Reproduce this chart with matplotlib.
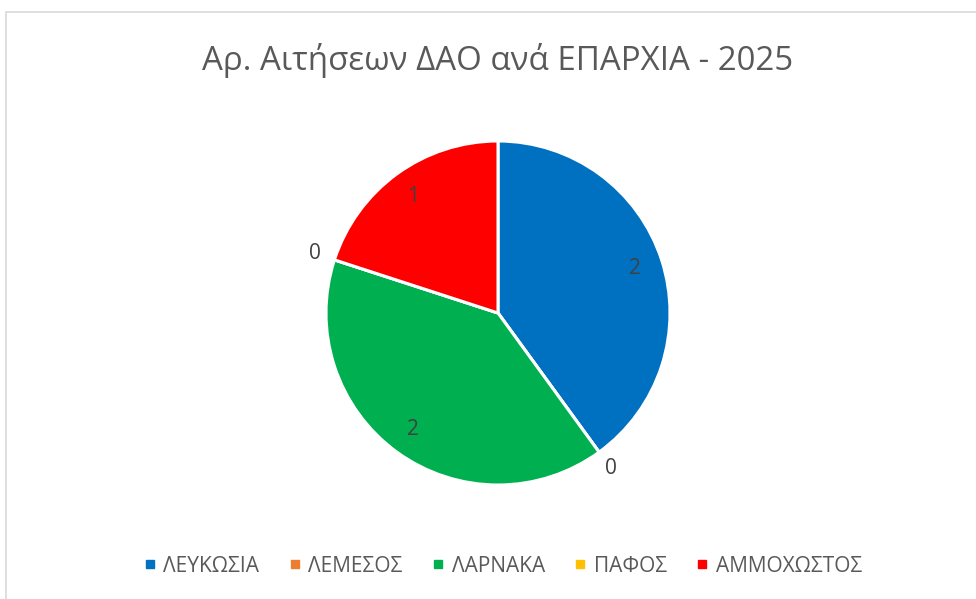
import numpy as np
import matplotlib
matplotlib.use("Agg")
from matplotlib import pyplot as plt
from matplotlib.lines import Line2D
from matplotlib.patches import Rectangle

# data
regions = ['ΛΕΥΚΩΣΙΑ', 'ΛΕΜΕΣΟΣ', 'ΛΑΡΝΑΚΑ', 'ΠΑΦΟΣ', 'ΑΜΜΟΧΩΣΤΟΣ']
counts = [2, 0, 2, 0, 1]
colors = ['#0070C0', '#ED7D31', '#00B050', '#FFC000', '#FF0000']
title = 'Αρ. Αιτήσεων ΔΑΟ ανά ΕΠΑΡΧΙΑ - 2025'

plt.rcParams['font.family'] = ['Open Sans', 'DejaVu Sans']
txt_col = '#595959'

W, H = 976, 599
fig = plt.figure(figsize=(W / 100, H / 100), dpi=100)

# chart border (light grey, runs off right/bottom)
fig.patches.append(Rectangle((6 / W, -0.1), 1.2, (1 - 12 / H) + 0.1,
                             transform=fig.transFigure, fill=False,
                             edgecolor='#D9D9D9', linewidth=1.2))

cx, cy, r = 498, 313, 172
ax = fig.add_axes([(cx - r) / W, (H - cy - r) / H, 2 * r / W, 2 * r / H])
wedges, _ = ax.pie(counts, colors=colors, startangle=90, counterclock=False,
                   wedgeprops=dict(edgecolor='white', linewidth=2.2))
ax.set_xlim(-1, 1)
ax.set_ylim(-1, 1)
ax.set_aspect('auto')
ax.axis('off')

# data labels
for w, v in zip(wedges, counts):
    ang = np.deg2rad((w.theta1 + w.theta2) / 2)
    d = 1.12 if v == 0 else 0.84
    ax.text(d * np.cos(ang), d * np.sin(ang), str(v), ha='center', va='center',
            fontsize=15, color='#404040')

fig.text(0.51, 1 - 61 / H, title, ha='center', va='center',
         fontsize=23.8, color=txt_col)

handles = [Line2D([], [], marker='s', linestyle='none', markersize=5.5,
                  markerfacecolor=c, markeredgecolor=c) for c in colors]
fig.legend(handles, regions, loc='center', ncol=5,
           bbox_to_anchor=(504 / W, 1 - 566 / H), frameon=False,
           fontsize=15, labelcolor=txt_col, handletextpad=0.45,
           columnspacing=1.5, handlelength=0.4)

fig.savefig('out.png', dpi=100)
